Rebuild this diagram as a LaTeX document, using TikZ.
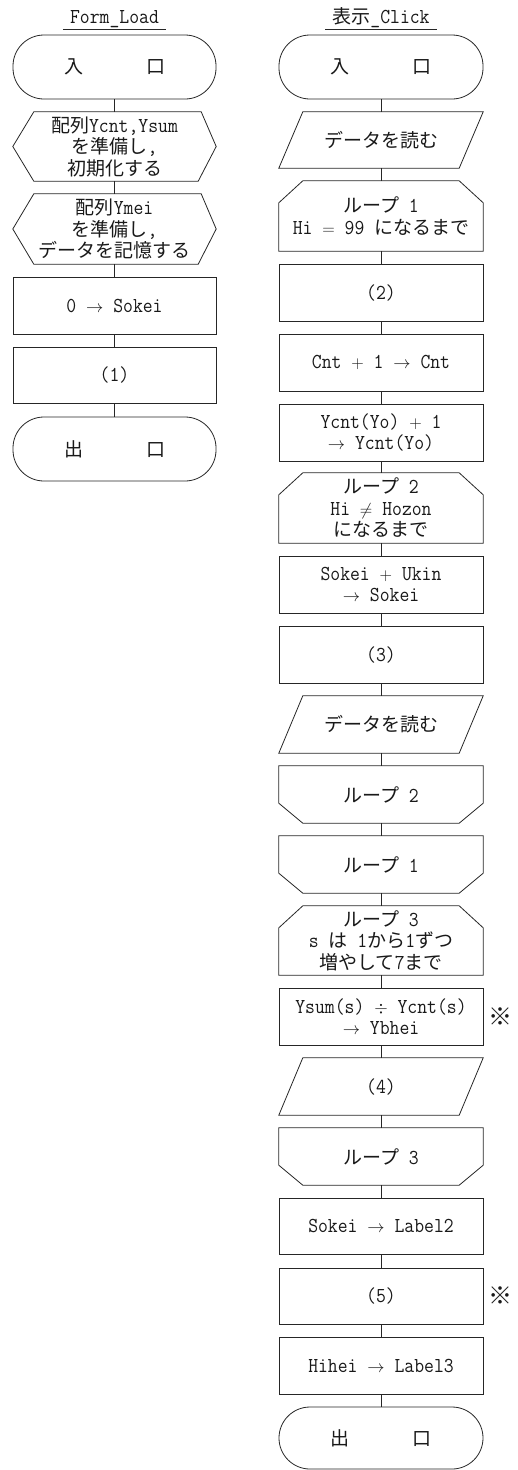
\documentclass[tikz,border=0pt]{standalone}
\usepackage{fontspec}
\setmonofont{Latin Modern Mono}[Scale=1.12,FakeStretch=0.9]
\newfontfamily\jpfont{Noto Sans CJK JP}
\newcommand\jp[1]{{\jpfont #1}}
\usetikzlibrary{calc}
\tikzset{
  ln/.style={line width=0.8pt, draw=black!85},
  cellL/.style={minimum width=203pt, minimum height=#1},
  cellL/.default=57pt,
  cellR/.style={minimum width=204pt, minimum height=#1},
  cellR/.default=57pt,
  box/.style={draw, ln},
  term/.style={draw, ln, rounded corners=31pt},
  title/.style={inner xsep=7pt, anchor=base},
  note/.style={font=\fontsize{24}{24}\selectfont\jpfont},
}
\newcommand\prepshape[1]{\draw[ln] (#1.west) -- ([xshift=21pt]#1.north west) -- ([xshift=-15pt]#1.north east) -- (#1.east) -- ([xshift=-18pt]#1.south east) -- ([xshift=21pt]#1.south west) -- cycle;}
\newcommand\loopstartshape[1]{\draw[ln] (#1.south west) -- ([yshift=-22pt]#1.north west) -- ([xshift=24pt]#1.north west) -- ([xshift=-24pt]#1.north east) -- ([yshift=-22pt]#1.north east) -- (#1.south east) -- cycle;}
\newcommand\loopendshape[1]{\draw[ln] (#1.north west) -- ([yshift=20pt]#1.south west) -- ([xshift=24pt]#1.south west) -- ([xshift=-24pt]#1.south east) -- ([yshift=20pt]#1.south east) -- (#1.north east) -- cycle;}
\newcommand\ioshape[1]{\draw[ln] ([xshift=24pt]#1.north west) -- (#1.north east) -- ([xshift=-24pt]#1.south east) -- (#1.south west) -- cycle;}
\begin{document}
\begin{tikzpicture}[x=1pt,y=-1pt,
  every node/.style={font=\fontsize{19}{21.5}\selectfont\ttfamily, align=center, inner sep=0pt, text=black!90}]
\useasboundingbox (0,0) rectangle (518,1470);

% titles
\node[title] (tl) at (114.5,23) {Form\_Load};
\node[title] (tr) at (381,23) {\jp{表示}\_Click};
\draw[ln] ([yshift=-6pt]tl.base west) -- ([yshift=-6pt]tl.base east);
\draw[ln] ([yshift=-6pt]tr.base west) -- ([yshift=-6pt]tr.base east);

% left column
\node[cellL=64pt, term] (L1) at (114.5,67) {\jp{入}\hspace{63pt}\jp{口}};
\node[cellL=69pt] (L2) at (114.5,146.5) {\jp{配列}Ycnt,Ysum\\\jp{を準備し},\\\jp{初期化する}};
\node[cellL=70pt] (L3) at (114.5,229) {\jp{配列}Ymei\\\jp{を準備し},\\\jp{データを記憶する}};
\node[cellL, box] (L4) at (114.5,305.5) {0 $\rightarrow$ Sokei};
\node[cellL=56pt, box] (L5) at (114.5,375) {(1)};
\node[cellL=64pt, term] (L6) at (114.5,449) {\jp{出}\hspace{63pt}\jp{口}};
\prepshape{L2}
\prepshape{L3}

% right column
\node[cellR=64pt, term] (R1) at (381,67) {\jp{入}\hspace{63pt}\jp{口}};
\node[cellR=56pt] (R2) at (381,140) {\jp{データを読む}};
\node[cellR=70pt] (R3) at (381,216) {\jp{ループ} 1\\Hi $=$ 99 \jp{になるまで}};
\node[cellR, box] (R4) at (381,292.5) {(2)};
\node[cellR, box] (R5) at (381,362.5) {Cnt $+$ 1 $\rightarrow$ Cnt};
\node[cellR, box] (R6) at (381,432.5) {Ycnt(Yo) $+$ 1\\$\rightarrow$ Ycnt(Yo)};
\node[cellR=70pt] (R7) at (381,508) {\jp{ループ} 2\\Hi $\neq$ Hozon\\\jp{になるまで}};
\node[cellR, box] (R8) at (381,584.5) {Sokei $+$ Ukin\\$\rightarrow$ Sokei};
\node[cellR, box] (R9) at (381,654.5) {(3)};
\node[cellR] (R10) at (381,724.5) {\jp{データを読む}};
\node[cellR] (R11) at (381,794.5) {\jp{ループ} 2};
\node[cellR] (R12) at (381,864.5) {\jp{ループ} 1};
\node[cellR=69pt] (R13) at (381,940.5) {\jp{ループ} 3\\s \jp{は} 1\jp{から}1\jp{ずつ}\\\jp{増やして}7\jp{まで}};
\node[cellR, box] (R14) at (381,1016.5) {Ysum(s) $\div$ Ycnt(s)\\$\rightarrow$ Ybhei};
\node[cellR] (R15) at (381,1086.5) {(4)};
\node[cellR] (R16) at (381,1156.5) {\jp{ループ} 3};
\node[cellR=56pt, box] (R17) at (381,1226) {Sokei $\rightarrow$ Label2};
\node[cellR=56pt, box] (R18) at (381,1296) {(5)};
\node[cellR, box] (R19) at (381,1365.5) {Hihei $\rightarrow$ Label3};
\node[cellR=62pt, term] (R20) at (381,1438) {\jp{出}\hspace{63pt}\jp{口}};
\ioshape{R2}
\loopstartshape{R3}
\loopstartshape{R7}
\ioshape{R10}
\loopendshape{R11}
\loopendshape{R12}
\loopstartshape{R13}
\ioshape{R15}
\loopendshape{R16}

% notes
\node[note] (m1) at (500,1017) {※};
\node[note] (m2) at (500,1296) {※};

% connectors
\foreach \a/\b in {L1/L2,L2/L3,L3/L4,L4/L5,L5/L6,
  R1/R2,R2/R3,R3/R4,R4/R5,R5/R6,R6/R7,R7/R8,R8/R9,R9/R10,R10/R11,
  R11/R12,R12/R13,R13/R14,R14/R15,R15/R16,R16/R17,R17/R18,R18/R19,R19/R20}
  \draw[ln] (\a.south) -- (\b.north);
\end{tikzpicture}
\end{document}
